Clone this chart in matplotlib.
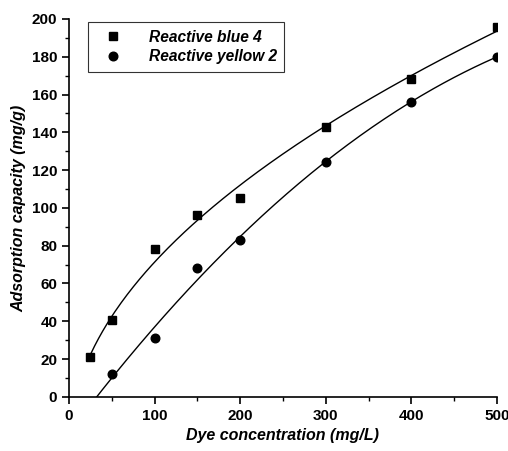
import numpy as np
import matplotlib
matplotlib.use("Agg")
import matplotlib.pyplot as plt
from matplotlib.ticker import MultipleLocator

plt.rcParams['font.family'] = ['Liberation Sans', 'DejaVu Sans']

# data
x_blue = [25, 50, 100, 150, 200, 300, 400, 500]
y_blue = [21, 40.5, 78.5, 96.5, 105.5, 143, 168, 196]
x_yellow = [50, 100, 150, 200, 300, 400, 500]
y_yellow = [12, 31, 68, 83, 124.5, 156, 180]

fig = plt.figure(figsize=(5.08, 4.51), dpi=100)
ax = fig.add_axes([0.136, 0.120, 0.842, 0.838])

# smooth fitted curves: least squares on 1, sqrt(x), x
def fit_curve(x, y, xs):
    x = np.asarray(x, float)
    A = np.column_stack([np.ones_like(x), np.sqrt(x), x])
    c, *_ = np.linalg.lstsq(A, np.asarray(y, float), rcond=None)
    return c[0] + c[1] * np.sqrt(xs) + c[2] * xs

xs = np.linspace(25, 500, 200)
ax.plot(xs, fit_curve(x_blue, y_blue, xs), color='black', lw=1.0)
ax.plot(xs, np.polyval(np.polyfit(x_yellow, y_yellow, 3), xs), color='black', lw=1.0)

ax.plot(x_blue, y_blue, 's', color='black', ms=5.5, label='Reactive blue 4')
ax.plot(x_yellow, y_yellow, 'o', color='black', ms=6.2, label='Reactive yellow 2')

ax.set_xlim(0, 500)
ax.set_ylim(0, 200)
ax.xaxis.set_major_locator(MultipleLocator(100))
ax.xaxis.set_minor_locator(MultipleLocator(50))
ax.yaxis.set_major_locator(MultipleLocator(20))
ax.yaxis.set_minor_locator(MultipleLocator(10))
ax.spines['top'].set_visible(False)
ax.spines['right'].set_visible(False)
ax.spines['left'].set_linewidth(1.2)
ax.spines['bottom'].set_linewidth(1.2)
ax.tick_params(which='major', direction='out', length=5, width=1.2, labelsize=11)
ax.tick_params(which='minor', direction='out', length=3, width=1.0)
for lab in ax.get_xticklabels() + ax.get_yticklabels():
    lab.set_fontweight('bold')

ax.set_xlabel('Dye concentration (mg/L)', fontsize=11.5, fontweight='bold', style='italic', labelpad=4)
ax.set_ylabel('Adsorption capacity (mg/g)', fontsize=11.5, fontweight='bold', style='italic', labelpad=4)

leg = ax.legend(loc='upper left', bbox_to_anchor=(0.044, 0.992), frameon=True, fancybox=False,
                edgecolor='black', prop={'weight': 'bold', 'style': 'italic', 'size': 11.2},
                handletextpad=1.2, borderpad=0.5, labelspacing=0.3, handlelength=2.2,
                borderaxespad=0)
leg.get_frame().set_linewidth(0.8)

fig.savefig('out.png', dpi=100)
